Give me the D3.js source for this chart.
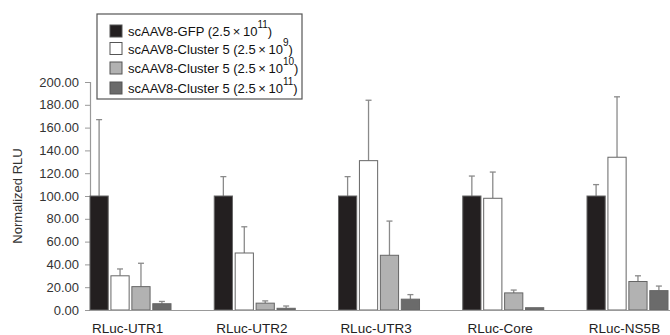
<!DOCTYPE html>
<html>
  <meta charset="utf-8">
  <head>
    <script src="https://d3js.org/d3.v7.min.js"></script>
    <style>
      body { margin: 0; background: #fff; }
      svg { font-family: "Liberation Sans", Arial, sans-serif; }
    </style>
  </head>
  <body>
    <div id="viz"></div>
    <script type="text/javascript">
      // data
      var categories = ["RLuc-UTR1", "RLuc-UTR2", "RLuc-UTR3", "RLuc-Core", "RLuc-NS5B"];
      var seriesNames = ["GFP11", "C5_9", "C5_10", "C5_11"];
      var gfp11 = [100, 100, 100, 100, 100];
      var gfp11Err = [67, 17, 17, 17.5, 10];
      var c5e9 = [30, 50, 131, 98, 134];
      var c5e9Err = [6, 23, 53, 23, 53];
      var c5e10 = [20.5, 6, 48, 15, 25];
      var c5e10Err = [20.5, 2, 30, 2.5, 5];
      var c5e11 = [5.5, 1.5, 9.5, 2, 17];
      var c5e11Err = [2, 2, 4, 0, 4];
      var yTicks = [0, 20, 40, 60, 80, 100, 120, 140, 160, 180, 200];
      var legendLabels = [
        ["scAAV8-GFP (2.5\u2009\u00d7\u200910", "11", ")"],
        ["scAAV8-Cluster 5 (2.5\u2009\u00d7\u200910", "9", ")"],
        ["scAAV8-Cluster 5 (2.5\u2009\u00d7\u200910", "10", ")"],
        ["scAAV8-Cluster 5 (2.5\u2009\u00d7\u200910", "11", ")"]
      ];
      var colors = ["#231f20", "#ffffff", "#b2b2b2", "#6b6b6b"];

      var values = [gfp11, c5e9, c5e10, c5e11];
      var errors = [gfp11Err, c5e9Err, c5e10Err, c5e11Err];

      var W = 670, H = 335;
      var svg = d3.select("#viz").append("svg")
        .attr("width", W)
        .attr("height", H);

      // scales
      var x0 = d3.scaleBand()
        .domain(categories)
        .range([90, 668])
        .paddingInner(0.348)
        .paddingOuter(0);
      var x1 = d3.scaleBand()
        .domain(seriesNames)
        .range([0, x0.bandwidth()])
        .paddingInner(0.13);
      var y = d3.scaleLinear()
        .domain([0, 200])
        .range([310, 82]);

      // y axis
      var yAxis = svg.append("g")
        .attr("transform", "translate(90,0)")
        .call(d3.axisLeft(y).tickValues(yTicks).tickSize(5).tickFormat(d3.format(".2f")));
      yAxis.select(".domain").attr("stroke", "#999").attr("stroke-width", 1.2);
      yAxis.selectAll(".tick line").attr("stroke", "#999");
      yAxis.selectAll(".tick text")
        .attr("x", -11)
        .attr("fill", "#333")
        .style("font-size", "13px");

      svg.append("text")
        .attr("transform", "translate(22,196) rotate(-90)")
        .attr("text-anchor", "middle")
        .attr("fill", "#333")
        .style("font-size", "13px")
        .text("Normalized RLU");

      // bars
      var groups = svg.selectAll("g.grp")
        .data(categories)
        .enter()
        .append("g")
          .attr("class", "grp")
          .attr("transform", (d) => "translate(" + x0(d) + ",0)");

      groups.each(function(cat, ci) {
        var g = d3.select(this);
        var rows = seriesNames.map((s, si) => ({s: s, si: si, v: values[si][ci], e: errors[si][ci]}));

        // error bars (upper only)
        var eb = rows.filter((d) => d.e > 0);
        g.selectAll("line.err")
          .data(eb)
          .enter()
          .append("line")
            .attr("x1", (d) => x1(d.s) + x1.bandwidth() / 2)
            .attr("x2", (d) => x1(d.s) + x1.bandwidth() / 2)
            .attr("y1", (d) => y(d.v))
            .attr("y2", (d) => y(d.v + d.e))
            .attr("stroke", "#8a8a8a")
            .attr("stroke-width", 1.3);
        g.selectAll("line.cap")
          .data(eb)
          .enter()
          .append("line")
            .attr("x1", (d) => x1(d.s) + x1.bandwidth() / 2 - 3)
            .attr("x2", (d) => x1(d.s) + x1.bandwidth() / 2 + 3)
            .attr("y1", (d) => y(d.v + d.e))
            .attr("y2", (d) => y(d.v + d.e))
            .attr("stroke", "#8a8a8a")
            .attr("stroke-width", 1.3);

        g.selectAll("rect")
          .data(rows)
          .enter()
          .append("rect")
            .attr("x", (d) => x1(d.s))
            .attr("y", (d) => y(d.v))
            .attr("width", x1.bandwidth())
            .attr("height", (d) => y(0) - y(d.v))
            .attr("fill", (d) => colors[d.si])
            .attr("stroke", "#666")
            .attr("stroke-width", 1);
      });

      // x axis
      var xAxis = svg.append("g")
        .attr("transform", "translate(0,310)")
        .call(d3.axisBottom(x0).tickSize(0).tickSizeOuter(0));
      xAxis.select(".domain")
        .attr("d", "M90,0.5H670")
        .attr("stroke", "#999")
        .attr("stroke-width", 1.2);
      xAxis.selectAll(".tick text")
        .attr("y", 13)
        .attr("dx", "-3")
        .attr("fill", "#222")
        .style("font-size", "13.5px");

      // legend
      var legend = svg.append("g");
      legend.append("rect")
        .attr("x", 97)
        .attr("y", 14)
        .attr("width", 205)
        .attr("height", 85)
        .attr("fill", "#fff")
        .attr("stroke", "#555")
        .attr("stroke-width", 1.2);
      var rowY = [31, 48.5, 68, 88];
      legendLabels.forEach(function(lab, i) {
        legend.append("rect")
          .attr("x", 110)
          .attr("y", rowY[i] - 6)
          .attr("width", 12)
          .attr("height", 12)
          .attr("fill", colors[i])
          .attr("stroke", "#555")
          .attr("stroke-width", 1);
        var t = legend.append("text")
          .attr("x", 128)
          .attr("y", rowY[i] + 5)
          .attr("fill", "#111")
          .style("font-size", "13px");
        t.append("tspan").text(lab[0]);
        t.append("tspan").attr("dy", -8).style("font-size", "10px").text(lab[1]);
        t.append("tspan").attr("dy", 8).text(lab[2]);
      });
    </script>
  </body>
</html>
